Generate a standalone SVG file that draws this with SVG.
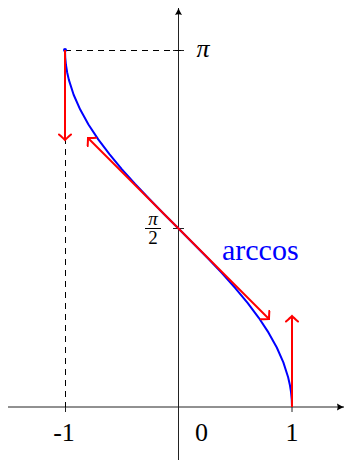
<svg xmlns="http://www.w3.org/2000/svg" width="345" height="460" viewBox="0 0 345 460">
<style>
.axis{stroke:#222;stroke-width:1;fill:none}
.dash{stroke:#000;stroke-width:1;stroke-dasharray:6,5;fill:none}
.red{stroke:#ff0000;stroke-width:2;fill:none}
.lbl{font-family:"Liberation Serif","DejaVu Serif",serif;font-size:26px;fill:#000}
.frac{font-family:"Liberation Serif","DejaVu Serif",serif;font-size:19px;fill:#000}
.pi{font-style:italic}
</style>
<defs>
<marker id="ax" markerUnits="userSpaceOnUse" markerWidth="10" markerHeight="10" viewBox="-8 -5 10 10" refX="0" refY="0" orient="auto">
<path d="M-7,-3.5 Q-3,-1 0,0 Q-3,1 -7,3.5 Q-5.5,0 -7,-3.5 Z" fill="#000"/>
</marker>
<marker id="to" markerUnits="userSpaceOnUse" markerWidth="14" markerHeight="14" viewBox="-8 -7 10 14" refX="0" refY="0" orient="auto-start-reverse">
<path d="M-5.5,-6 Q-1.5,-1.5 0,0 Q-1.5,1.5 -5.5,6" stroke="#ff0000" stroke-width="2" fill="none" stroke-linecap="round"/>
</marker>
</defs>
<g id="axes">
<line class="axis" x1="8" y1="407" x2="344" y2="407" marker-end="url(#ax)"/>
<line class="axis" x1="178.5" y1="460" x2="178.5" y2="8" marker-end="url(#ax)"/>
<line class="axis" x1="173" y1="228.5" x2="184" y2="228.5"/>
<line class="axis" x1="173" y1="50.5" x2="184" y2="50.5"/>
<line class="axis" x1="65.5" y1="402" x2="65.5" y2="412"/>
<line class="axis" x1="292" y1="402" x2="292" y2="412"/>
</g>
<g id="guides">
<line class="dash" x1="65" y1="50.5" x2="183" y2="50.5"/>
<line class="dash" x1="65.5" y1="50" x2="65.5" y2="407"/>
</g>
<g id="curve">
<polyline fill="none" stroke="#0000ff" stroke-width="2" stroke-linejoin="round" points="292,407 291.76,399.57 291.03,392.13 289.82,384.69 288.13,377.26 283.36,362.39 276.79,347.52 268.55,332.65 258.76,317.78 247.59,302.91 235.25,288.04 221.93,273.17 207.88,258.3 193.32,243.43 178.5,228.56 163.68,213.69 149.12,198.82 135.07,183.95 121.75,169.08 109.41,154.21 98.24,139.34 88.45,124.47 80.21,109.6 73.64,94.73 68.87,79.86 67.18,72.43 65.97,64.99 65.24,57.55 65,50.12"/>
<circle cx="65" cy="50" r="2" fill="#0000ff"/>
</g>
<g id="connectors">
<line class="red" x1="65" y1="50" x2="65" y2="140" marker-end="url(#to)"/>
<line class="red" x1="88" y1="138" x2="269" y2="319" marker-start="url(#to)" marker-end="url(#to)"/>
<line class="red" x1="292" y1="407" x2="292" y2="316" marker-end="url(#to)"/>
</g>
<g id="labels">
<text class="lbl pi" x="203" y="57" text-anchor="middle">π</text>
<text class="frac pi" x="153" y="225" text-anchor="middle">π</text>
<line x1="145" y1="228.5" x2="161" y2="228.5" stroke="#000" stroke-width="1"/>
<text class="frac" x="153" y="244" text-anchor="middle">2</text>
<text x="222" y="260" style="font-family:'Liberation Serif','DejaVu Serif',serif;font-size:30px;fill:#0000ff">arccos</text>
<text class="lbl" x="64" y="441" text-anchor="middle">-1</text>
<text class="lbl" x="201.5" y="441" text-anchor="middle">0</text>
<text class="lbl" x="292" y="441" text-anchor="middle">1</text>
</g>
</svg>
